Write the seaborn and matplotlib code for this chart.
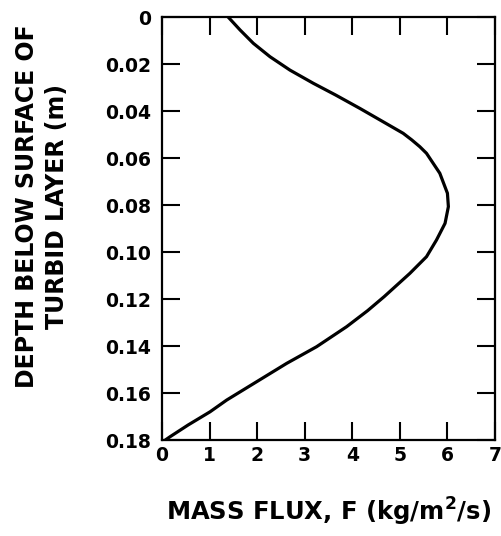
import matplotlib
matplotlib.use("Agg")
import matplotlib.pyplot as plt
import seaborn as sns
import pandas as pd

# Data (depth in m, mass flux in kg/m^2/s)
depth = [0.0000, 0.0055, 0.0112, 0.0169, 0.0226, 0.0282, 0.0332, 0.0389,
         0.0446, 0.0495, 0.0523, 0.0552, 0.0580, 0.0665, 0.0750, 0.0807,
         0.0878, 0.0949, 0.1020, 0.1091, 0.1190, 0.1250, 0.1318,
         0.1403, 0.1474, 0.1552, 0.1630, 0.1680, 0.1736, 0.1786, 0.1800]
flux = [1.39, 1.64, 1.92, 2.27, 2.69, 3.18, 3.65, 4.16,
        4.65, 5.07, 5.25, 5.42, 5.56, 5.84, 6.00, 6.02,
        5.95, 5.77, 5.56, 5.21, 4.67, 4.32, 3.88,
        3.25, 2.62, 1.99, 1.36, 1.01, 0.55, 0.17, 0.07]

x_ticks = [0, 1, 2, 3, 4, 5, 6, 7]
y_ticks = [0.00, 0.02, 0.04, 0.06, 0.08, 0.10, 0.12, 0.14, 0.16, 0.18]
y_tick_labels = ["0", "0.02", "0.04", "0.06", "0.08", "0.10", "0.12",
                 "0.14", "0.16", "0.18"]

df = pd.DataFrame({"flux": flux, "depth": depth})

sns.set_style("ticks")
plt.rcParams["font.family"] = ["DejaVu Sans"]
plt.rcParams["font.weight"] = "bold"
plt.rcParams["mathtext.fontset"] = "dejavusans"
plt.rcParams["text.color"] = "black"
plt.rcParams["axes.labelcolor"] = "black"

fig = plt.figure(figsize=(5.02, 5.36), dpi=100)
ax = fig.add_axes([162 / 502, 1 - 440 / 536, 333 / 502, 423 / 536])

sns.lineplot(data=df, x="flux", y="depth", orient="y", estimator=None,
             color="black", linewidth=2.3, ax=ax)

ax.set_xlim(0, 7)
ax.set_ylim(0.18, 0.0)
ax.set_xticks(x_ticks)
ax.set_xticklabels([str(v) for v in x_ticks])
ax.set_yticks(y_ticks)
ax.set_yticklabels(y_tick_labels)

for s in ax.spines.values():
    s.set_visible(True)
    s.set_linewidth(1.6)
    s.set_color("black")

ax.tick_params(axis="both", which="major", direction="in", length=13,
               width=1.5, top=True, right=True, labelsize=13.5,
               labelcolor="black", color="black")
ax.tick_params(axis="x", pad=4)
ax.tick_params(axis="y", pad=8)
for lab in ax.get_xticklabels() + ax.get_yticklabels():
    lab.set_fontweight("bold")

ax.set_xlabel(r"MASS FLUX, F (kg/m$^{\mathbf{2}}$/s)", fontsize=17.5,
              fontweight="bold", va="center", color="black")
ax.xaxis.set_label_coords(0.5, -0.17)
ax.set_ylabel("DEPTH BELOW SURFACE OF\nTURBID LAYER (m)", fontsize=17,
              fontweight="bold", va="center", linespacing=1.3,
              color="black")
ax.yaxis.set_label_coords(-0.36, 0.553)

fig.savefig("out.png", dpi=100)
